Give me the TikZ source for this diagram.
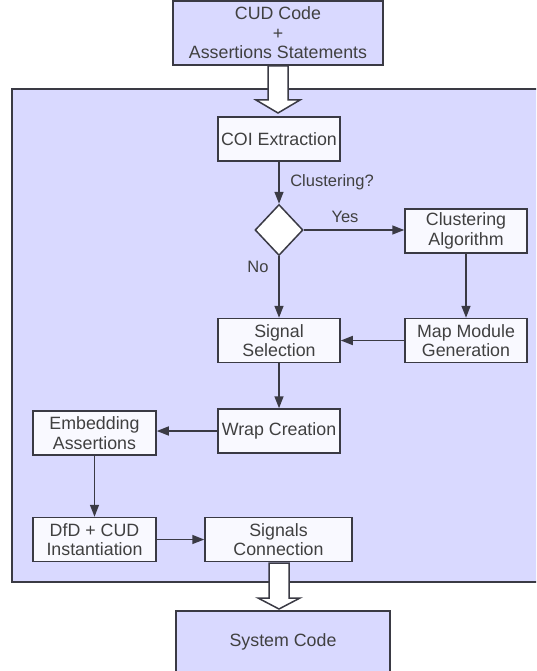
\documentclass[tikz,border=0pt]{standalone}
\usepackage{fontspec}
\setmainfont{Liberation Sans}
\usetikzlibrary{arrows.meta,shapes.geometric}
\definecolor{lav}{HTML}{D9D9FF}
\definecolor{boxfill}{HTML}{F9F9FF}
\definecolor{edge}{HTML}{3A3A44}
\definecolor{txt}{HTML}{404040}
\tikzset{
  stepbox/.style={draw=edge,line width=1.5pt,fill=boxfill,text=txt,align=center,
    minimum width=#1,minimum height=44pt,inner sep=0pt,font=\fontsize{17.8}{19.5}\selectfont},
  stepbox/.default=122pt,
  conn/.style={draw=edge,line width=1.6pt,-{Triangle[length=12pt,width=9pt]}},
  lbl/.style={text=txt,font=\fontsize{16.5}{19}\selectfont,inner sep=0pt},
  hollow/.style={draw=edge,line width=1.5pt,fill=white,line join=miter}
}
\begin{document}
\begin{tikzpicture}[x=1pt,y=-1pt]
\useasboundingbox (0,0) rectangle (536,671);
\clip (0,0) rectangle (536,671);
% outer frame
\draw[draw=edge,line width=1.8pt,fill=lav] (12,89) rectangle (560,582);
% input box
\node[draw=edge,line width=1.5pt,fill=lav,text=txt,align=center,minimum width=210pt,minimum height=64pt,inner sep=0pt,font=\fontsize{17.8}{19.5}\selectfont]
  (input) at (278,33) {CUD Code\\+\\Assertions Statements};
% output box
\node[draw=edge,line width=1.5pt,fill=lav,minimum width=214pt,minimum height=90pt,inner sep=0pt] (output) at (283,656) {};
\node[text=txt,font=\fontsize{17.8}{19.5}\selectfont] (outtext) at (283,642) {System Code};
% hollow arrows
\draw[hollow] (268,66) -- (288,66) -- (288,100) -- (300,100) -- (278,113) -- (256,100) -- (268,100) -- cycle;
\draw[hollow] (269,563) -- (289,563) -- (289,598) -- (300,598) -- (279,609) -- (258,598) -- (269,598) -- cycle;
% steps
\node[stepbox] (coi) at (279,139) {COI Extraction};
\node[diamond,draw=edge,line width=1.5pt,fill=white,minimum width=48pt,minimum height=51pt,inner sep=0pt] (dec) at (279,230) {};
\node[stepbox] (clust) at (466,231) {Clustering\\Algorithm};
\node[stepbox] (map) at (466,340.5) {Map Module\\Generation};
\node[stepbox] (sigsel) at (279,340.5) {Signal\\Selection};
\node[stepbox] (wrap) at (279,431) {Wrap Creation};
\node[stepbox=123pt] (embed) at (94.5,433) {Embedding\\Assertions};
\node[stepbox=123pt] (dfd) at (94.5,539.5) {DfD + CUD\\Instantiation};
\node[stepbox=147pt] (sigconn) at (278.5,539.5) {Signals\\Connection};
% connectors
\draw[conn] (coi) -- (dec);
\draw[conn] (dec.east) -- (clust.west |- dec.east);
\draw[conn] (dec) -- (sigsel);
\draw[conn] (clust) -- (map);
\draw[conn] (map) -- (sigsel);
\draw[conn] (sigsel) -- (wrap);
\draw[conn] (wrap.west) -- (embed.east |- wrap.west);
\draw[conn] (embed) -- (dfd);
\draw[conn] (dfd) -- (sigconn);
% labels
\node[lbl] (qlbl) at (332,182) {Clustering?};
\node[lbl] (yes) at (345,217) {Yes};
\node[lbl] (no) at (258,267) {No};
\end{tikzpicture}
\end{document}
